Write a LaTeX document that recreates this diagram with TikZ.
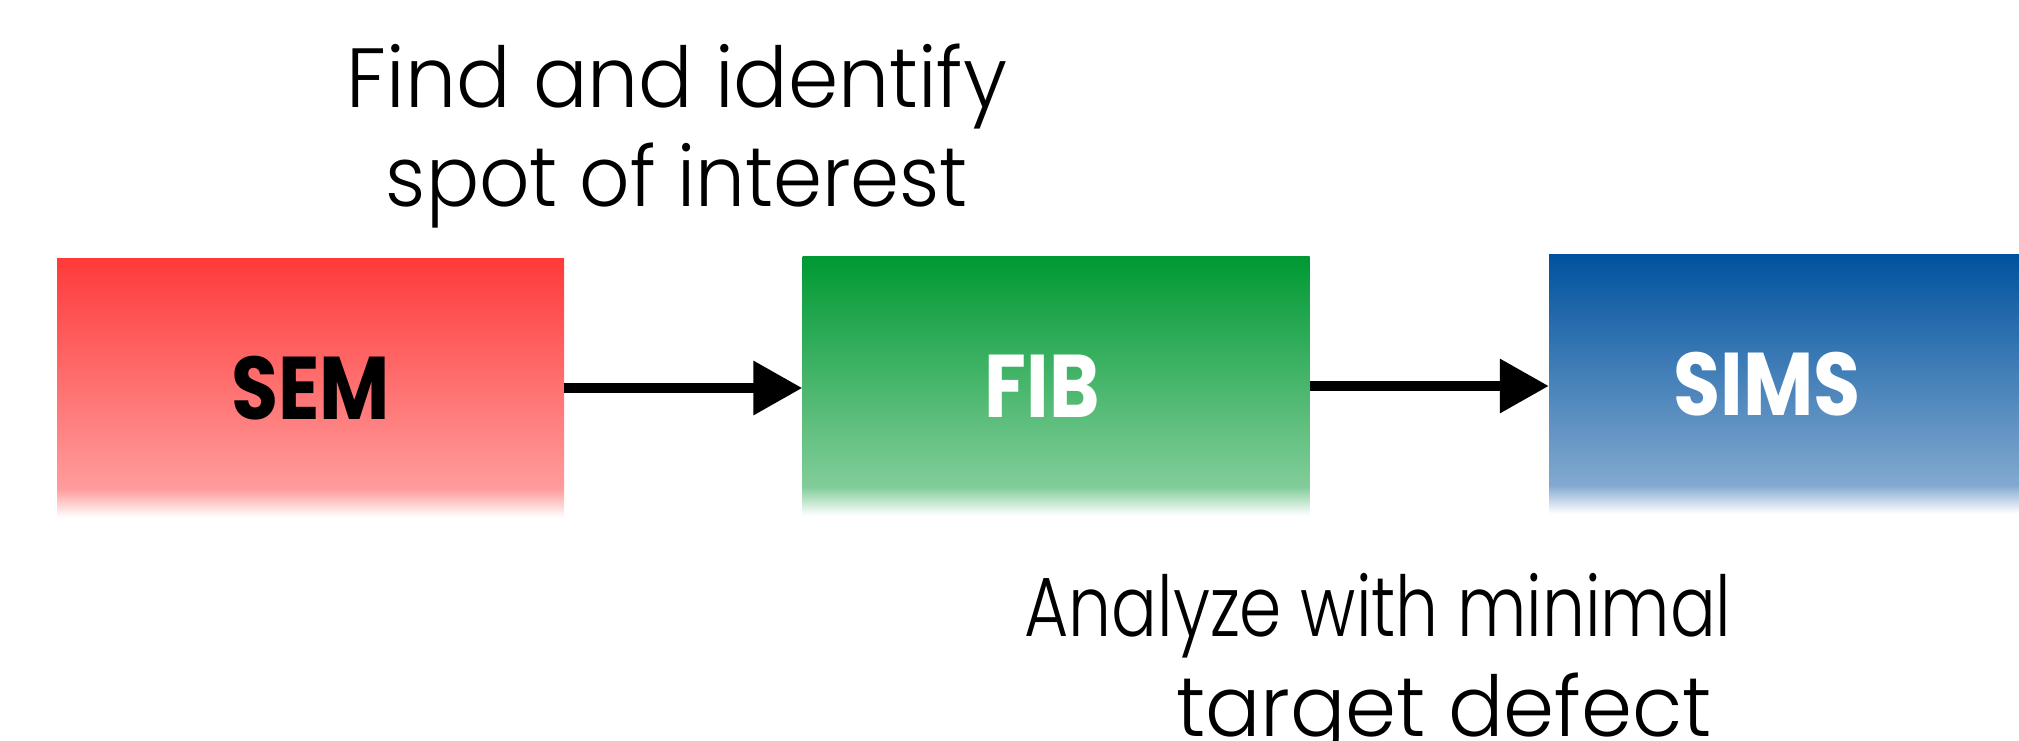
\documentclass[tikz,border=0pt]{standalone}
\usepackage{fontspec}
\setmainfont{Poppins Light}
\newfontfamily\boxfont[FakeStretch=0.86]{Poppins}
\usetikzlibrary{arrows.meta}
\definecolor{semhi}{HTML}{FF3A3A}
\definecolor{semlo}{HTML}{FF9C9C}
\definecolor{fibhi}{HTML}{009933}
\definecolor{fiblo}{HTML}{82CD9A}
\definecolor{simshi}{HTML}{00529E}
\definecolor{simslo}{HTML}{82A9D0}
\pgfdeclareverticalshading{semshade}{100bp}{color(0bp)=(white); color(25bp)=(white); color(30.5bp)=(semlo); color(75bp)=(semhi); color(100bp)=(semhi)}
\pgfdeclareverticalshading{fibshade}{100bp}{color(0bp)=(white); color(25bp)=(white); color(30.5bp)=(fiblo); color(75bp)=(fibhi); color(100bp)=(fibhi)}
\pgfdeclareverticalshading{simsshade}{100bp}{color(0bp)=(white); color(25bp)=(white); color(30.5bp)=(simslo); color(75bp)=(simshi); color(100bp)=(simshi)}
\tikzset{
  stagebox/.style={minimum width=507pt, minimum height=259pt, inner sep=0pt, font=\boxfont\fontsize{89}{96}\selectfont\bfseries},
  desc/.style={anchor=base, inner sep=0pt, font=\fontsize{84}{99}\selectfont},
  flow/.style={line width=10pt, -{Triangle[length=49pt,width=52pt]}}
}
\begin{document}
\begin{tikzpicture}[x=1pt,y=-1pt]
\useasboundingbox (0,0) rectangle (2019,740);
\node[stagebox, shading=semshade, text=black] (sem) at (310.5,388) {SEM};
\node[stagebox, shading=fibshade, text=white] (fib) at (1056,386) {FIB\hspace*{28pt}};
\node[stagebox, shading=simsshade, text=white] (sims) at (1802.5,384) {SIMS\hspace*{71pt}};
\draw[flow] (sem.east) -- (sem.east -| fib.west);
\draw[flow] (fib.east) -- (fib.east -| sims.west);
\node[desc] (t1) at (677,107) {\resizebox{660pt}{\height}{Find and identify}};
\node[desc] (t2) at (677,206) {\resizebox{582pt}{\height}{spot of interest}};
\node[desc] (b1) at (1378,636) {\resizebox{707pt}{\height}{Analyze with minimal}};
\node[desc] (b2) at (1444,736) {\resizebox{536pt}{\height}{target defect}};
\end{tikzpicture}
\end{document}
